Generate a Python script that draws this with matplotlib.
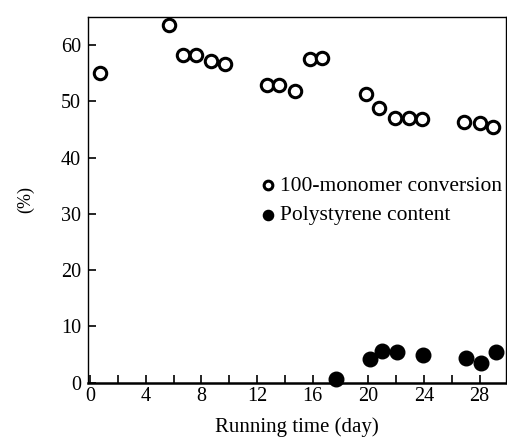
import matplotlib
matplotlib.use("Agg")
import matplotlib.pyplot as plt
from matplotlib.ticker import MultipleLocator

plt.rcParams['font.family'] = ['Liberation Serif', 'DejaVu Serif']

conv_day = [0.7, 5.7, 6.7, 7.6, 8.7, 9.7, 12.7, 13.6, 14.7, 15.8, 16.7,
            19.8, 20.8, 21.9, 22.95, 23.85, 26.9, 28.0, 29.0]
conv_val = [55.0, 63.6, 58.3, 58.3, 57.2, 56.7, 52.9, 53.0, 51.8, 57.6, 57.8,
            51.3, 48.9, 47.1, 47.1, 46.8, 46.3, 46.2, 45.4]

ps_day = [17.7, 20.1, 21.0, 22.1, 23.9, 27.0, 28.1, 29.2]
ps_val = [0.6, 4.2, 5.6, 5.4, 4.9, 4.3, 3.4, 5.4]

x_ticks = [0, 4, 8, 12, 16, 20, 24, 28]
y_ticks = [0, 10, 20, 30, 40, 50, 60]

fig = plt.figure(figsize=(5.07, 4.37), dpi=100)
ax = fig.add_axes([0.1736, 0.1247, 0.8244, 0.8363])

ax.scatter(conv_day, conv_val, s=80, facecolors='white', edgecolors='black',
           linewidths=2.2, zorder=3, label='100-monomer conversion', clip_on=False)
ax.scatter(ps_day, ps_val, s=110, facecolors='black', edgecolors='black',
           linewidths=1.0, zorder=3, label='Polystyrene content', clip_on=False)

ax.set_xlim(-0.15, 29.9)
ax.set_ylim(0, 65)
ax.set_xticks(x_ticks)
ax.set_yticks(y_ticks)
ax.xaxis.set_minor_locator(MultipleLocator(2))
ax.tick_params(axis='both', which='both', direction='in', labelsize=14.5,
               top=False, right=False)
ax.tick_params(axis='both', which='major', length=6, width=1.2)
ax.tick_params(axis='x', which='minor', length=6, width=1.2)
ax.tick_params(axis='x', pad=3)
ax.tick_params(axis='y', pad=5)

for s in ax.spines.values():
    s.set_linewidth(1.0)
ax.spines['bottom'].set_linewidth(1.8)

ax.set_xlabel('Running time (day)', fontsize=15, labelpad=8)
ax.set_ylabel('(%)', fontsize=13, labelpad=19)

leg = ax.legend(loc='upper left', bbox_to_anchor=(0.39, 0.59), frameon=False,
                fontsize=15.5, handletextpad=0.15, markerscale=0.7,
                borderaxespad=0, labelspacing=0.45, handlelength=0.8)

fig.savefig('out.png', dpi=100)
